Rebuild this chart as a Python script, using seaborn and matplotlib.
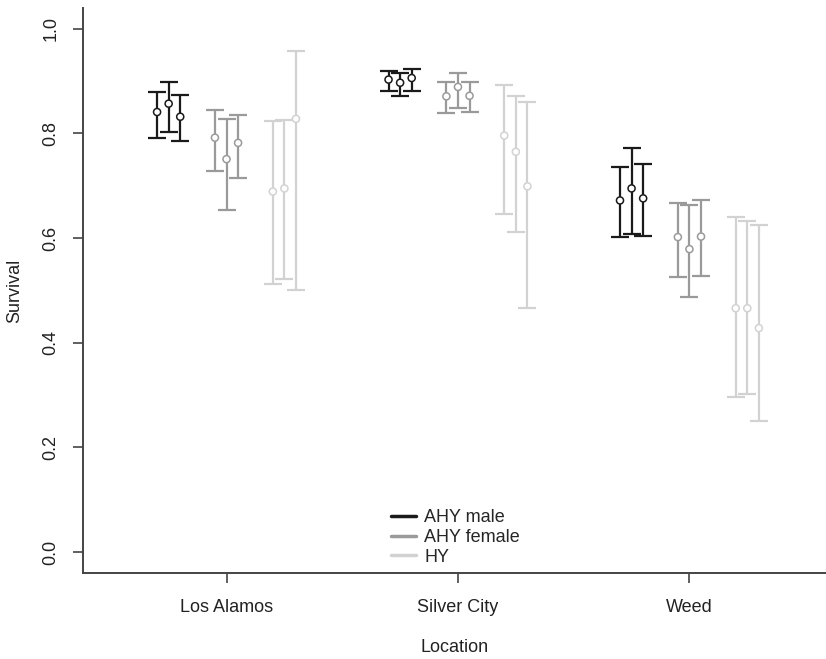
import numpy as np
import pandas as pd
import matplotlib
matplotlib.use("Agg")
import matplotlib.pyplot as plt
import seaborn as sns

locations = ["Los Alamos", "Silver City", "Weed"]
groups = ["AHY male", "AHY female", "HY"]
group_colors = ["#1a1a1a", "#9a9a9a", "#d2d2d2"]

# survival estimates: [location][group][3 models]
est = [
    [[0.841, 0.857, 0.832], [0.792, 0.751, 0.782], [0.689, 0.695, 0.828]],
    [[0.903, 0.897, 0.906], [0.871, 0.889, 0.872], [0.796, 0.765, 0.699]],
    [[0.672, 0.695, 0.676], [0.602, 0.579, 0.603], [0.466, 0.466, 0.428]],
]
lower = [
    [[0.792, 0.802, 0.785], [0.729, 0.653, 0.715], [0.512, 0.522, 0.500]],
    [[0.881, 0.872, 0.882], [0.839, 0.849, 0.841], [0.647, 0.611, 0.467]],
    [[0.602, 0.607, 0.604], [0.526, 0.488, 0.528], [0.297, 0.303, 0.250]],
]
upper = [
    [[0.879, 0.898, 0.873], [0.844, 0.828, 0.836], [0.823, 0.826, 0.958]],
    [[0.920, 0.916, 0.924], [0.898, 0.916, 0.898], [0.893, 0.872, 0.860]],
    [[0.736, 0.772, 0.742], [0.668, 0.664, 0.672], [0.641, 0.633, 0.625]],
]

rows = []
for i, loc in enumerate(locations):
    for j, grp in enumerate(groups):
        for k in range(3):
            rows.append(dict(location=loc, group=grp,
                             x=i + 1 + (j - 1) * 0.25 + (k - 1) * 0.05,
                             est=est[i][j][k], lo=lower[i][j][k], hi=upper[i][j][k]))
df = pd.DataFrame(rows)

sns.set_style("ticks")
plt.rcParams["font.family"] = ["Liberation Sans", "DejaVu Sans"]

fig = plt.figure(figsize=(8.26, 6.59), dpi=100)
ax = fig.add_axes([0.1005, 0.1305, 0.8995, 0.8575])

palette = dict(zip(groups, group_colors))
for grp in groups:
    d = df[df.group == grp]
    ax.errorbar(d.x, d.est, yerr=[d.est - d.lo, d.hi - d.est], fmt="none",
                ecolor=palette[grp], elinewidth=1.6, capsize=6.5, capthick=1.6, zorder=2)

sns.scatterplot(data=df, x="x", y="est", hue="group", palette=palette,
                marker="o", s=26, facecolor="white", linewidth=1.1,
                legend=False, ax=ax, zorder=3)
# open circles: edge colour by group
coll = ax.collections[-1]
coll.set_facecolor("white")
coll.set_edgecolor([palette[g] for g in df.group])

for grp in groups:
    ax.plot([], [], color=palette[grp], lw=2.5, label=grp)
leg = ax.legend(loc="lower left", bbox_to_anchor=(0.414, 0.013), borderaxespad=0,
                frameon=False, fontsize=13, handlelength=1.4, labelspacing=0.15,
                handletextpad=0.45, borderpad=0)

ax.set_xlim(0.38, 3.59)
ax.set_ylim(-0.04, 1.04)
ax.set_xticks([1, 2, 3])
ax.set_xticklabels(locations)
ax.set_yticks([0, 0.2, 0.4, 0.6, 0.8, 1.0])
ax.set_yticklabels(["0.0", "0.2", "0.4", "0.6", "0.8", "1.0"], rotation=90, va="center")
ax.tick_params(axis="both", labelsize=13, length=7, width=1.2, color="#444444",
               labelcolor="#222222")
ax.tick_params(axis="x", pad=12)
ax.tick_params(axis="y", pad=10)
ax.set_xlabel("Location", fontsize=13, labelpad=16, color="#222222")
ax.set_ylabel("Survival", fontsize=13, labelpad=14, color="#222222")
sns.despine(ax=ax)
for s in ["left", "bottom"]:
    ax.spines[s].set_color("#444444")
    ax.spines[s].set_linewidth(1.4)

fig.savefig("out.png", dpi=100)
